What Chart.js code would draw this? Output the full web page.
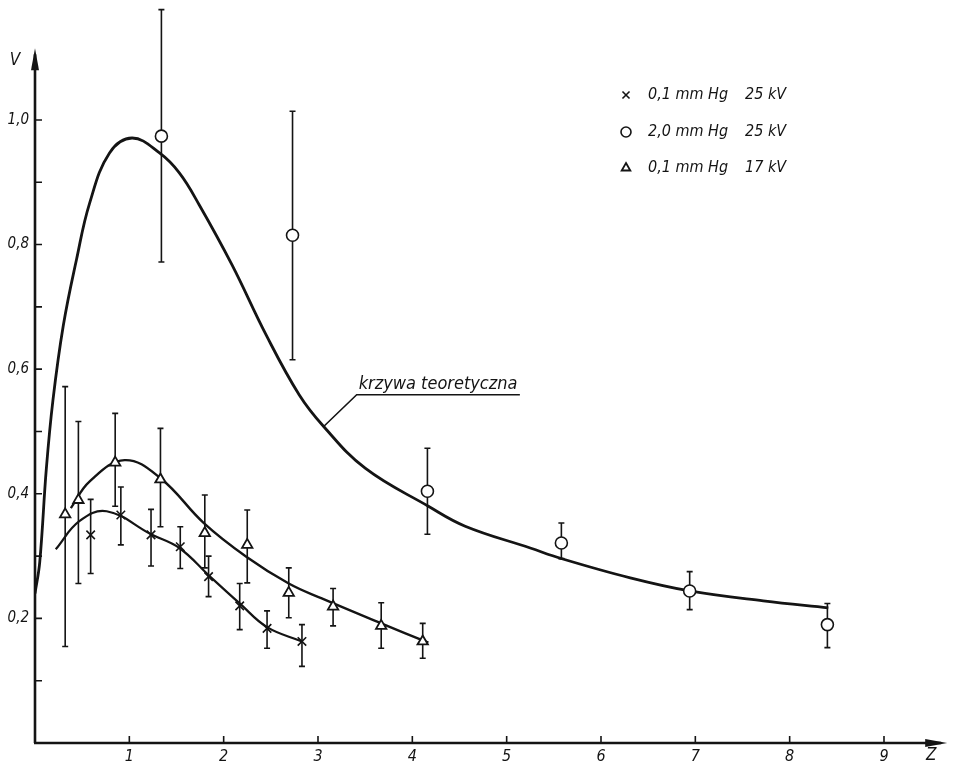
<!DOCTYPE html>
<html>
<head>
<meta charset="utf-8">
<script src="https://cdn.jsdelivr.net/npm/chart.js@4/dist/chart.umd.min.js"></script>
<style>
html, body { margin: 0; padding: 0; background: #fff; }
canvas { display: block; }
</style>
</head>
<body>
<canvas id="myChart" width="955" height="764"></canvas>
<script>
// x: 0,1 mm Hg 25 kV
const crossZ  = [0.59, 0.91, 1.23, 1.54, 1.84, 2.17, 2.46, 2.83];
const crossV  = [0.334, 0.366, 0.334, 0.315, 0.267, 0.220, 0.184, 0.163];
const crossHi = [0.391, 0.411, 0.375, 0.347, 0.300, 0.256, 0.212, 0.190];
const crossLo = [0.272, 0.318, 0.284, 0.280, 0.235, 0.182, 0.152, 0.123];

// o: 2,0 mm Hg 25 kV
const circleZ  = [1.34, 2.73, 4.16, 5.58, 6.94, 8.40];
const circleV  = [0.974, 0.815, 0.404, 0.321, 0.244, 0.190];
const circleHi = [1.177, 1.014, 0.473, 0.353, 0.275, 0.224];
const circleLo = [0.772, 0.615, 0.335, 0.296, 0.214, 0.153];

// triangles: 0,1 mm Hg 17 kV
const triZ  = [0.32, 0.46, 0.85, 1.33, 1.80, 2.25, 2.69, 3.16, 3.67, 4.11];
const triV  = [0.367, 0.390, 0.450, 0.423, 0.337, 0.318, 0.241, 0.219, 0.188, 0.163];
const triHi = [0.572, 0.516, 0.529, 0.505, 0.398, 0.374, 0.281, 0.248, 0.225, 0.192];
const triLo = [0.155, 0.256, 0.380, 0.347, 0.281, 0.257, 0.201, 0.188, 0.152, 0.136];

// krzywa teoretyczna
const theoryZ = [0.0, 0.05, 0.12, 0.19, 0.30, 0.44, 0.58, 0.79, 1.03, 1.32, 1.53, 1.74, 2.09, 2.45, 2.80, 3.06, 3.50, 4.17, 4.56, 5.25, 5.58, 6.31, 6.94, 7.72, 8.41];
const theoryV = [0.24, 0.29, 0.44, 0.55, 0.67, 0.776, 0.867, 0.947, 0.971, 0.947, 0.915, 0.864, 0.767, 0.655, 0.559, 0.508, 0.441, 0.380, 0.348, 0.313, 0.296, 0.265, 0.244, 0.228, 0.217];

// hand drawn curves through the measured points
const triFitZ = [0.38, 0.58, 0.95, 1.33, 1.79, 2.24, 2.69, 3.04, 3.67, 4.17];
const triFitV = [0.377, 0.420, 0.454, 0.425, 0.353, 0.299, 0.256, 0.232, 0.192, 0.161];
const crossFitZ = [0.22, 0.47, 0.76, 1.23, 1.53, 1.85, 2.17, 2.46, 2.83];
const crossFitV = [0.311, 0.356, 0.372, 0.335, 0.313, 0.268, 0.224, 0.186, 0.163];

// axes
const xTickValues = [1, 2, 3, 4, 5, 6, 7, 8, 9];
const xTickLabels = ['1', '2', '3', '4', '5', '6', '7', '8', '9'];
const yTickValues = [0.2, 0.4, 0.6, 0.8, 1.0];
const yTickLabels = ['0,2', '0,4', '0,6', '0,8', '1,0'];
const yMinorTicks = [0.1, 0.2, 0.3, 0.4, 0.5, 0.6, 0.7, 0.8, 0.9, 1.0];

const legendPressure = ['0,1 mm Hg', '2,0 mm Hg', '0,1 mm Hg'];
const legendVoltage = ['25 kV', '25 kV', '17 kV'];
const curveLabel = 'krzywa teoretyczna';

const ink = '#141414';
const handFont = "'DejaVu Sans Condensed', 'Liberation Sans Narrow', 'DejaVu Sans', sans-serif";

const toXY = (zs, vs) => zs.map((z, i) => ({x: z, y: vs[i]}));

const markerStyles = [
    {pointStyle: 'crossRot', radius: 6, borderWidth: 1.6, backgroundColor: '#fff', borderColor: ink},
    {pointStyle: 'circle', radius: 6, borderWidth: 1.6, backgroundColor: '#fff', borderColor: ink},
    {pointStyle: 'triangle', radius: 6, borderWidth: 1.8, backgroundColor: '#fff', borderColor: ink}
];

const errorBars = {
    id: 'errorBars',
    beforeDatasetsDraw(chart) {
        const {ctx, scales: {x, y}} = chart;
        const sets = [[crossZ, crossHi, crossLo], [circleZ, circleHi, circleLo], [triZ, triHi, triLo]];
        ctx.save();
        ctx.strokeStyle = ink;
        ctx.lineWidth = 1.6;
        sets.forEach(([zs, his, los]) => {
            zs.forEach((z, i) => {
                const px = x.getPixelForValue(z);
                const top = y.getPixelForValue(his[i]);
                const bot = y.getPixelForValue(los[i]);
                ctx.beginPath();
                ctx.moveTo(px, top); ctx.lineTo(px, bot);
                ctx.moveTo(px - 3, top); ctx.lineTo(px + 3, top);
                ctx.moveTo(px - 3, bot); ctx.lineTo(px + 3, bot);
                ctx.stroke();
            });
        });
        ctx.restore();
    }
};

const handAxes = {
    id: 'handAxes',
    afterDatasetsDraw(chart) {
        const {ctx, scales: {x, y}} = chart;
        const x0 = x.getPixelForValue(0);
        const y0 = y.getPixelForValue(0);
        const yTip = y.getPixelForValue(1.115);
        const xTip = x.getPixelForValue(x.max);
        ctx.save();
        ctx.strokeStyle = ink;
        ctx.fillStyle = ink;
        ctx.lineWidth = 2.6;
        ctx.beginPath();
        ctx.moveTo(x0, y0); ctx.lineTo(x0, yTip + 6);
        ctx.moveTo(x0 - 1, y0); ctx.lineTo(xTip - 6, y0);
        ctx.stroke();
        // arrow heads
        ctx.beginPath();
        ctx.moveTo(x0, yTip); ctx.lineTo(x0 - 4, yTip + 22); ctx.lineTo(x0 + 4, yTip + 22); ctx.closePath();
        ctx.fill();
        ctx.beginPath();
        ctx.moveTo(xTip, y0); ctx.lineTo(xTip - 22, y0 - 4); ctx.lineTo(xTip - 22, y0 + 4); ctx.closePath();
        ctx.fill();
        // ticks pointing inwards
        ctx.lineWidth = 1.6;
        ctx.beginPath();
        yMinorTicks.forEach(v => {
            const py = y.getPixelForValue(v);
            ctx.moveTo(x0, py); ctx.lineTo(x0 + 7, py);
        });
        xTickValues.forEach(v => {
            const px = x.getPixelForValue(v);
            ctx.moveTo(px, y0); ctx.lineTo(px, y0 - 7);
        });
        ctx.stroke();
        // axis names
        ctx.font = 'italic 17px ' + handFont;
        ctx.textAlign = 'center';
        ctx.textBaseline = 'middle';
        ctx.fillText('V', x0 - 20, yTip + 12);
        ctx.fillText('Z', x.getPixelForValue(9.5), y0 + 13);

        // label of the theoretical curve with its leader
        const ax = x.getPixelForValue(3.06), ay = y.getPixelForValue(0.508);
        const ex = x.getPixelForValue(3.41), ey = y.getPixelForValue(0.559);
        const rx = x.getPixelForValue(5.14);
        ctx.lineWidth = 1.6;
        ctx.beginPath();
        ctx.moveTo(ax, ay); ctx.lineTo(ex, ey); ctx.lineTo(rx, ey);
        ctx.stroke();
        ctx.textAlign = 'left';
        ctx.textBaseline = 'alphabetic';
        ctx.font = 'italic 18px ' + handFont;
        ctx.fillText(curveLabel, ex + 2, ey - 6);

        // legend
        const rowsY = [95, 132, 168];
        ctx.font = 'italic 16px ' + handFont;
        ctx.textBaseline = 'middle';
        rowsY.forEach((ry, i) => {
            const st = markerStyles[i];
            ctx.save();
            ctx.strokeStyle = st.borderColor;
            ctx.fillStyle = st.backgroundColor;
            ctx.lineWidth = st.borderWidth;
            Chart.helpers.drawPoint(ctx, {pointStyle: st.pointStyle, radius: st.radius - 1, rotation: 0, borderWidth: st.borderWidth}, 626, ry);
            ctx.restore();
            ctx.fillStyle = ink;
            ctx.fillText(legendPressure[i], 648, ry);
            ctx.fillText(legendVoltage[i], 745, ry);
        });
        ctx.restore();
    }
};

const lineSet = (zs, vs, width) => ({
    type: 'line',
    data: toXY(zs, vs),
    showLine: true,
    borderColor: ink,
    borderWidth: width,
    pointRadius: 0,
    tension: 0.4,
    fill: false,
    order: 2
});

const markerSet = (zs, vs, st) => ({
    type: 'scatter',
    data: toXY(zs, vs),
    pointStyle: st.pointStyle,
    pointRadius: st.radius,
    pointBorderWidth: st.borderWidth,
    pointBackgroundColor: st.backgroundColor,
    pointBorderColor: st.borderColor,
    showLine: false,
    order: 1
});

const noPad = s => { s.paddingTop = 0; s.paddingBottom = 0; s.paddingLeft = 0; s.paddingRight = 0; };

const ctx = document.getElementById('myChart').getContext('2d');
const chart = new Chart(ctx, {
    type: 'scatter',
    data: {
        datasets: [
            markerSet(crossZ, crossV, markerStyles[0]),
            markerSet(circleZ, circleV, markerStyles[1]),
            markerSet(triZ, triV, markerStyles[2]),
            lineSet(theoryZ, theoryV, 2.8),
            lineSet(triFitZ, triFitV, 2.4),
            lineSet(crossFitZ, crossFitV, 2.2)
        ]
    },
    options: {
        responsive: false,
        animation: false,
        events: [],
        layout: {padding: {top: 4, right: 3, left: 0, bottom: 0}},
        plugins: {legend: {display: false}, tooltip: {enabled: false}},
        scales: {
            x: {
                type: 'linear',
                min: 0,
                max: 9.67,
                grid: {display: false, drawTicks: false},
                border: {display: false},
                afterFit: s => { s.height = 21; noPad(s); },
                ticks: {
                    stepSize: 1,
                    padding: 4,
                    color: ink,
                    font: {family: handFont, size: 16, style: 'italic'},
                    callback: v => {
                        const k = xTickValues.indexOf(Math.round(v * 100) / 100);
                        return k >= 0 ? xTickLabels[k] : '';
                    }
                }
            },
            y: {
                type: 'linear',
                min: 0,
                max: 1.18,
                grid: {display: false, drawTicks: false},
                border: {display: false},
                afterFit: s => { s.width = 35; noPad(s); },
                ticks: {
                    stepSize: 0.1,
                    padding: 6,
                    color: ink,
                    font: {family: handFont, size: 15, style: 'italic'},
                    callback: v => {
                        const k = yTickValues.findIndex(t => Math.abs(t - v) < 1e-6);
                        return k >= 0 ? yTickLabels[k] : '';
                    }
                }
            }
        }
    },
    plugins: [errorBars, handAxes]
});
</script>
</body>
</html>
